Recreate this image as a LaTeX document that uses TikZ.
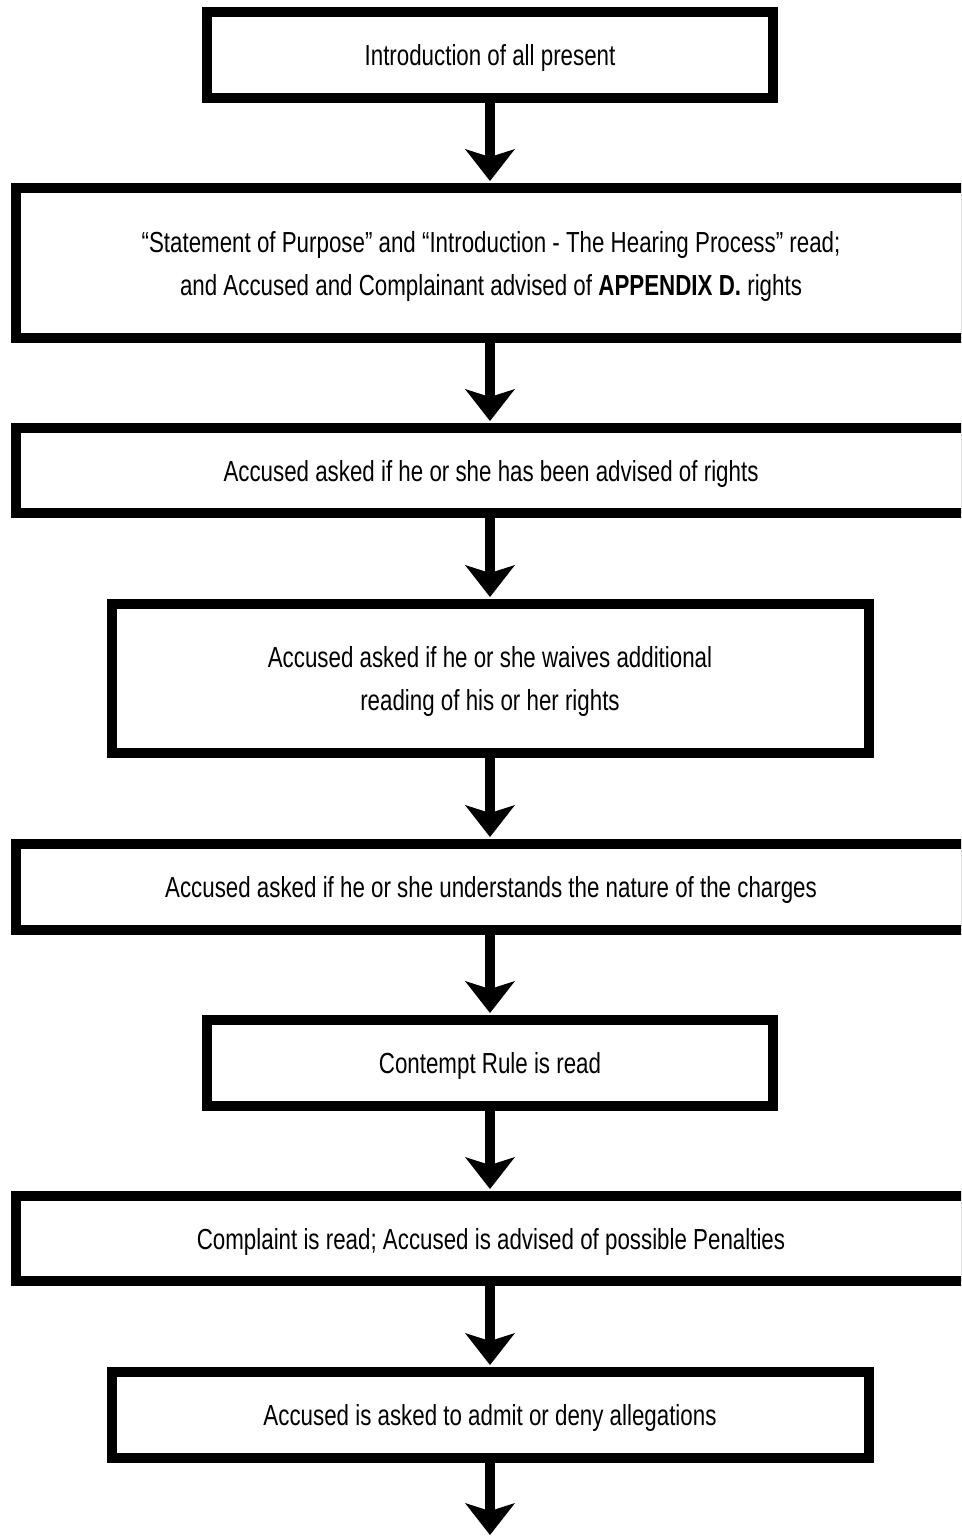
\documentclass[tikz,border=0pt]{standalone}
\usepackage{fontspec}
\setmainfont{Liberation Sans}[FakeStretch=0.77]
\usetikzlibrary{arrows.meta}
\begin{document}
\begin{tikzpicture}[x=1pt,y=-1pt,
  box/.style={draw=black, line width=10pt, rectangle, inner sep=0pt, align=center,
    font=\fontsize{29}{43}\selectfont, text depth=0pt},
  wide/.style={box, minimum width=950pt},
  mid/.style={box, minimum width=757pt},
  narrow/.style={box, minimum width=566pt},
  conn/.style={line width=10pt, -{Stealth[length=32pt,width=50pt,inset=8pt,line width=0pt]}, shorten >=2pt}]
\useasboundingbox (0,0) rectangle (961,1536);
\clip (0,0) rectangle (961,1536);
\node[narrow, minimum height=86pt] (b1) at (490,55) {Introduction of all present};
\node[wide, minimum height=150pt] (b2) at (491,263) {“Statement of Purpose” and “Introduction - The Hearing Process” read;\\and Accused and Complainant advised of \textbf{APPENDIX D.} rights};
\node[wide, minimum height=85pt] (b3) at (491,470.5) {Accused asked if he or she has been advised of rights};
\node[mid, minimum height=149pt] (b4) at (490,678.5) {Accused asked if he or she waives additional\\reading of his or her rights};
\node[wide, minimum height=86pt] (b5) at (491,887) {Accused asked if he or she understands the nature of the charges};
\node[narrow, minimum height=86pt] (b6) at (490,1063) {Contempt Rule is read};
\node[wide, minimum height=85pt] (b7) at (491,1238.5) {Complaint is read; Accused is advised of possible Penalties};
\node[mid, minimum height=86pt] (b8) at (490,1415) {Accused is asked to admit or deny allegations};
\coordinate (end) at (490,1536);
\draw[conn] (b1.south) -- (b2.north -| b1.south);
\draw[conn] (b2.south -| b1.south) -- (b3.north -| b1.south);
\draw[conn] (b3.south -| b1.south) -- (b4.north);
\draw[conn] (b4.south) -- (b5.north -| b1.south);
\draw[conn] (b5.south -| b1.south) -- (b6.north);
\draw[conn] (b6.south) -- (b7.north -| b1.south);
\draw[conn] (b7.south -| b1.south) -- (b8.north);
\draw[conn, shorten >=1pt] (b8.south) -- (end);
\end{tikzpicture}
\end{document}
